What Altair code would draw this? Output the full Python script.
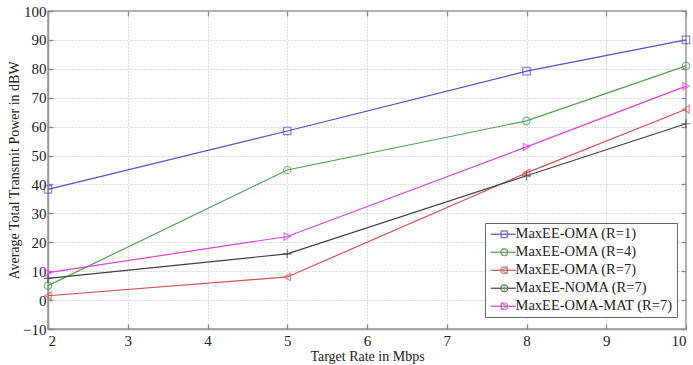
import altair as alt
import pandas as pd

rates = [2, 5, 8, 10]
series_names = [
    "MaxEE-OMA (R=1)",
    "MaxEE-OMA (R=4)",
    "MaxEE-OMA (R=7)",
    "MaxEE-NOMA (R=7)",
    "MaxEE-OMA-MAT (R=7)",
]
oma_r1 = [38.3, 58.5, 79.2, 90.0]
oma_r4 = [5.0, 45.0, 62.0, 81.0]
oma_r7 = [1.5, 8.0, 44.0, 66.0]
noma_r7 = [7.5, 16.0, 43.0, 61.0]
oma_mat_r7 = [9.5, 22.0, 53.0, 74.0]

colors = ["#5050d0", "#4ea34e", "#d85050", "#404040", "#e040e0"]
shapes = [
    "square",
    "circle",
    "triangle-left",
    "M-1.2,0L1.2,0M0,-1.2L0,1.2",
    "triangle-right",
]

rows = []
for name, vals in zip(series_names, [oma_r1, oma_r4, oma_r7, noma_r7, oma_mat_r7]):
    for r, v in zip(rates, vals):
        rows.append({"rate": r, "power": v, "s1": name, "s2": name})
df = pd.DataFrame(rows)

FONT = "Liberation Serif"
LX, LY = 437, 212
xticks = list(range(2, 11))
yticks = list(range(-10, 101, 10))
xscale = alt.Scale(domain=[2, 10], nice=False)
yscale = alt.Scale(domain=[-10, 100], nice=False)

tick_only = dict(labels=False, domain=False, grid=False, ticks=True,
                 tickSize=5, offset=-5, tickColor="#888", tickWidth=1.3, title=None)

x_main = alt.X("rate:Q", title="Target Rate in Mbps", scale=xscale,
               axis=alt.Axis(values=xticks, format="d", ticks=False))
y_main = alt.Y("power:Q", title="Average Total Transmit Power in dBW", scale=yscale,
               axis=alt.Axis(values=yticks, format="d", ticks=False))

lines = alt.Chart(df).mark_line(strokeWidth=1.2).encode(
    x=x_main, y=y_main,
    stroke=alt.Stroke("s1:N", sort=series_names,
                      scale=alt.Scale(range=colors),
                      legend=alt.Legend(
                          title=None, orient="none", legendX=LX, legendY=LY,
                          symbolType="M-3,0L3,0", symbolSize=70, symbolStrokeWidth=1.2,
                          labelFontSize=14.5, labelFont=FONT, labelColor="#222",
                          rowPadding=3, padding=4, strokeColor="#666",
                          fillColor="white", labelLimit=300, zindex=1,
                          symbolOffset=7, labelOffset=5)),
    detail="s1:N",
)

marker_legend = alt.Legend(
    title=None, orient="none", legendX=LX, legendY=LY,
    symbolSize=45, symbolStrokeWidth=1.2,
    labelFontSize=14.5, labelFont=FONT, labelExpr="''",
    rowPadding=3, padding=4, zindex=2,
    symbolOffset=8, labelOffset=0)

points = alt.Chart(df).mark_point(filled=False, size=55, strokeWidth=1.2).encode(
    x=alt.X("rate:Q", scale=xscale, axis=alt.Axis(values=xticks, orient="top", **tick_only)),
    y=alt.Y("power:Q", scale=yscale, axis=alt.Axis(values=yticks, orient="right", **tick_only)),
    color=alt.Color("s2:N", sort=series_names,
                    scale=alt.Scale(range=colors), legend=marker_legend),
    shape=alt.Shape("s2:N", sort=series_names,
                    scale=alt.Scale(range=shapes), legend=marker_legend),
)

inner_ticks = alt.Chart(df).mark_line(strokeOpacity=0).encode(
    x=alt.X("rate:Q", scale=xscale, axis=alt.Axis(values=xticks, orient="bottom", **tick_only)),
    y=alt.Y("power:Q", scale=yscale, axis=alt.Axis(values=yticks, orient="left", **tick_only)),
    detail="s1:N",
)

chart = alt.layer(lines, points, inner_ticks).resolve_scale(
    color="independent", shape="independent", stroke="independent"
).resolve_axis(
    x="independent", y="independent"
).properties(
    width=638, height=318,
    padding={"left": 48, "top": 11, "right": 7, "bottom": 36},
    autosize=alt.AutoSizeParams(type="none"),
    background="white",
).configure_view(
    stroke="#999", strokeWidth=1.5,
).configure_axis(
    labelFont=FONT, labelFontSize=15, labelColor="#222",
    titleFont=FONT, titleFontSize=14, titleColor="#222", titleFontWeight="normal",
    gridColor="#bbb", gridDash=[1, 2], gridWidth=1,
    domainColor="#999", domainWidth=1.5,
    labelPadding=3,
).configure_axisLeft(
    titlePadding=1, labelPadding=2,
).configure_axisBottom(
    titlePadding=1, labelPadding=4,
)

chart.save("out.html", embed_options={"renderer": "svg", "actions": False})
